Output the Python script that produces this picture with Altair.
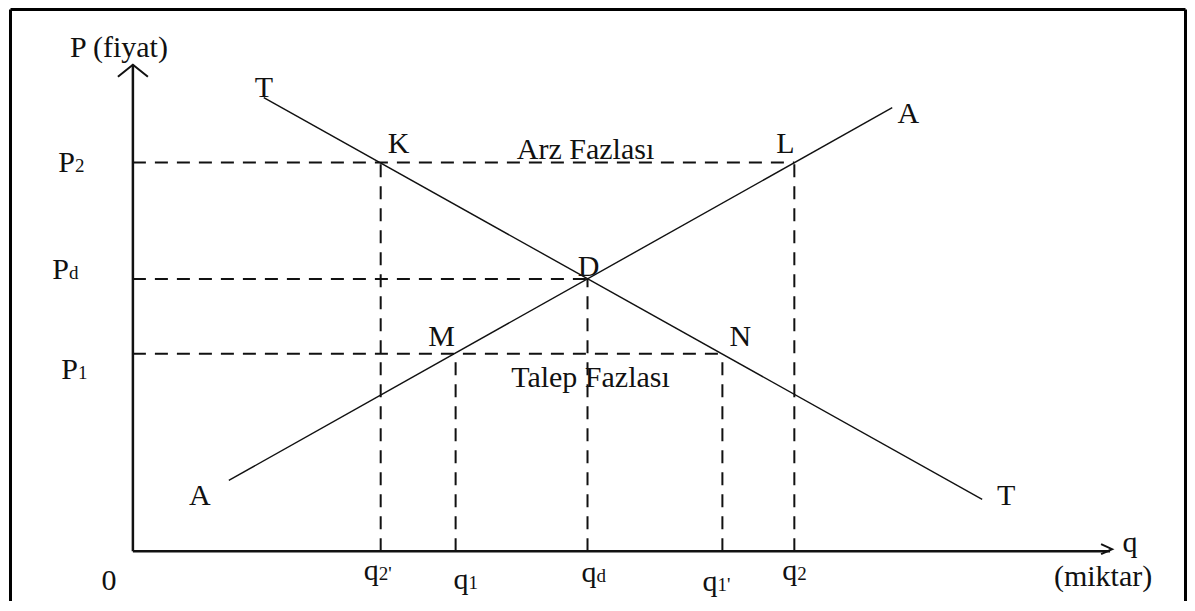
import altair as alt
import pandas as pd

# ---- economic values (axis origin = 0,0) ----
# quantities (horizontal axis)
q_base = ["q", "q", "q", "q", "q"]
q_sub = ["2'", "1", "d", "1'", "2"]
q_values = [2.48, 3.23, 4.55, 5.90, 6.62]
q_label_x = [2.44, 3.34, 4.62, 5.83, 6.63]
q_label_y = [-0.29, -0.38, -0.31, -0.40, -0.29]

# prices (vertical axis)
p_base = ["P", "P", "P"]
p_sub = ["2", "d", "1"]
p_values = [3.90, 2.73, 1.98]
p_label_x = [-0.60, -0.66, -0.57]
p_label_y = [3.80, 2.73, 1.73]

# named points
point_names = ["K", "L", "D", "M", "N"]
point_q = [2.48, 6.62, 4.55, 3.23, 5.90]
point_p = [3.90, 3.90, 2.73, 1.98, 1.98]
# horizontal dashed guides run from the price axis to these points
h_guides = ["L", "D", "N"]

# supply (A-A) and demand (T-T) lines
supply_q = [0.96, 7.60]
supply_p = [0.71, 4.45]
demand_q = [1.31, 8.50]
demand_p = [4.55, 0.52]

# axes extent
x_axis_end = 9.78
y_axis_end = 4.88

# plain text labels
text_labels = ["P (fiyat)", "K", "L", "D", "M", "N", "T", "A", "A", "T",
               "Arz Fazlası", "Talep Fazlası", "0", "q", "(miktar)"]
text_x = [-0.14, 2.66, 6.53, 4.56, 3.09, 6.08, 1.31, 7.76, 0.67, 8.74,
          4.53, 4.58, -0.24, 9.98, 9.71]
text_y = [4.96, 4.00, 4.00, 2.76, 2.06, 2.06, 4.56, 4.30, 0.46, 0.46,
          3.93, 1.65, -0.39, -0.01, -0.35]

# chart frame edges (data units)
frame_left, frame_right, frame_top, frame_bottom = -1.225, 10.535, 5.435, -0.50

X_DOMAIN = [-1.24, 10.55]
Y_DOMAIN = [-0.50, 5.45]

FONT = "Liberation Serif"
INK = "#111111"

xs = alt.Scale(domain=X_DOMAIN, nice=False, zero=False)
ys = alt.Scale(domain=Y_DOMAIN, nice=False, zero=False)


def rule_layer(df, **mark):
    return alt.Chart(df).mark_rule(**mark).encode(
        x=alt.X("x:Q", scale=xs, axis=None),
        x2="x2:Q",
        y=alt.Y("y:Q", scale=ys, axis=None),
        y2="y2:Q",
    )


# dashed guides
pt = dict(zip(point_names, zip(point_q, point_p)))
dash_rows = []
for name in h_guides:
    q, p = pt[name]
    dash_rows.append(dict(x=0, x2=q, y=p, y2=p))
for name in point_names:
    q, p = pt[name]
    dash_rows.append(dict(x=q, x2=q, y=0, y2=p))
dashes = rule_layer(pd.DataFrame(dash_rows), color=INK, strokeWidth=2,
                    strokeDash=[13, 9])

# supply / demand
curves = rule_layer(pd.DataFrame([
    dict(x=supply_q[0], x2=supply_q[1], y=supply_p[0], y2=supply_p[1]),
    dict(x=demand_q[0], x2=demand_q[1], y=demand_p[0], y2=demand_p[1]),
]), color=INK, strokeWidth=1.4)

# axes
axes = rule_layer(pd.DataFrame([
    dict(x=0, x2=0, y=0, y2=y_axis_end),
    dict(x=0, x2=x_axis_end, y=0, y2=0),
]), color=INK, strokeWidth=2.5)

# arrow heads (open chevrons)
arrow_df = pd.DataFrame([
    dict(seg="y", o=0, x=-0.15, y=y_axis_end - 0.12),
    dict(seg="y", o=1, x=0.0, y=y_axis_end),
    dict(seg="y", o=2, x=0.15, y=y_axis_end - 0.12),
    dict(seg="x", o=0, x=x_axis_end - 0.09, y=0.07),
    dict(seg="x", o=1, x=x_axis_end + 0.02, y=0.02),
    dict(seg="x", o=2, x=x_axis_end - 0.09, y=-0.03),
])
arrows = alt.Chart(arrow_df).mark_line(color=INK, strokeWidth=2).encode(
    x=alt.X("x:Q", scale=xs, axis=None),
    y=alt.Y("y:Q", scale=ys, axis=None),
    detail="seg:N",
    order="o:Q",
)

# frame
frame = rule_layer(pd.DataFrame([
    dict(x=frame_left, x2=frame_left, y=frame_bottom, y2=frame_top),
    dict(x=frame_right, x2=frame_right, y=frame_bottom, y2=frame_top),
    dict(x=frame_left, x2=frame_right, y=frame_top, y2=frame_top),
]), color="#000000", strokeWidth=3)

# plain text
txt_df = pd.DataFrame(dict(t=text_labels, x=text_x, y=text_y))
texts = alt.Chart(txt_df).mark_text(
    font=FONT, fontSize=30, color=INK, align="center", baseline="alphabetic"
).encode(
    x=alt.X("x:Q", scale=xs, axis=None),
    y=alt.Y("y:Q", scale=ys, axis=None),
    text="t:N",
)

# composite labels (base letter + small index)
comp_df = pd.DataFrame(dict(
    base=q_base + p_base,
    sub=q_sub + p_sub,
    x=q_label_x + p_label_x,
    y=q_label_y + p_label_y,
))
base_txt = alt.Chart(comp_df).mark_text(
    font=FONT, fontSize=30, color=INK, align="right", baseline="alphabetic", dx=2
).encode(
    x=alt.X("x:Q", scale=xs, axis=None),
    y=alt.Y("y:Q", scale=ys, axis=None),
    text="base:N",
)
sub_txt = alt.Chart(comp_df).mark_text(
    font=FONT, fontSize=19, color=INK, align="left", baseline="alphabetic", dx=2
).encode(
    x=alt.X("x:Q", scale=xs, axis=None),
    y=alt.Y("y:Q", scale=ys, axis=None),
    text="sub:N",
)

chart = alt.layer(
    frame, dashes, curves, axes, arrows, texts, base_txt, sub_txt
).properties(
    width=1179,
    height=595,
    padding=0,
    autosize=alt.AutoSizeParams(type="fit", contains="padding"),
    background="white",
).configure_view(stroke=None)

chart.save("out.html", embed_options={"renderer": "svg", "actions": False})
